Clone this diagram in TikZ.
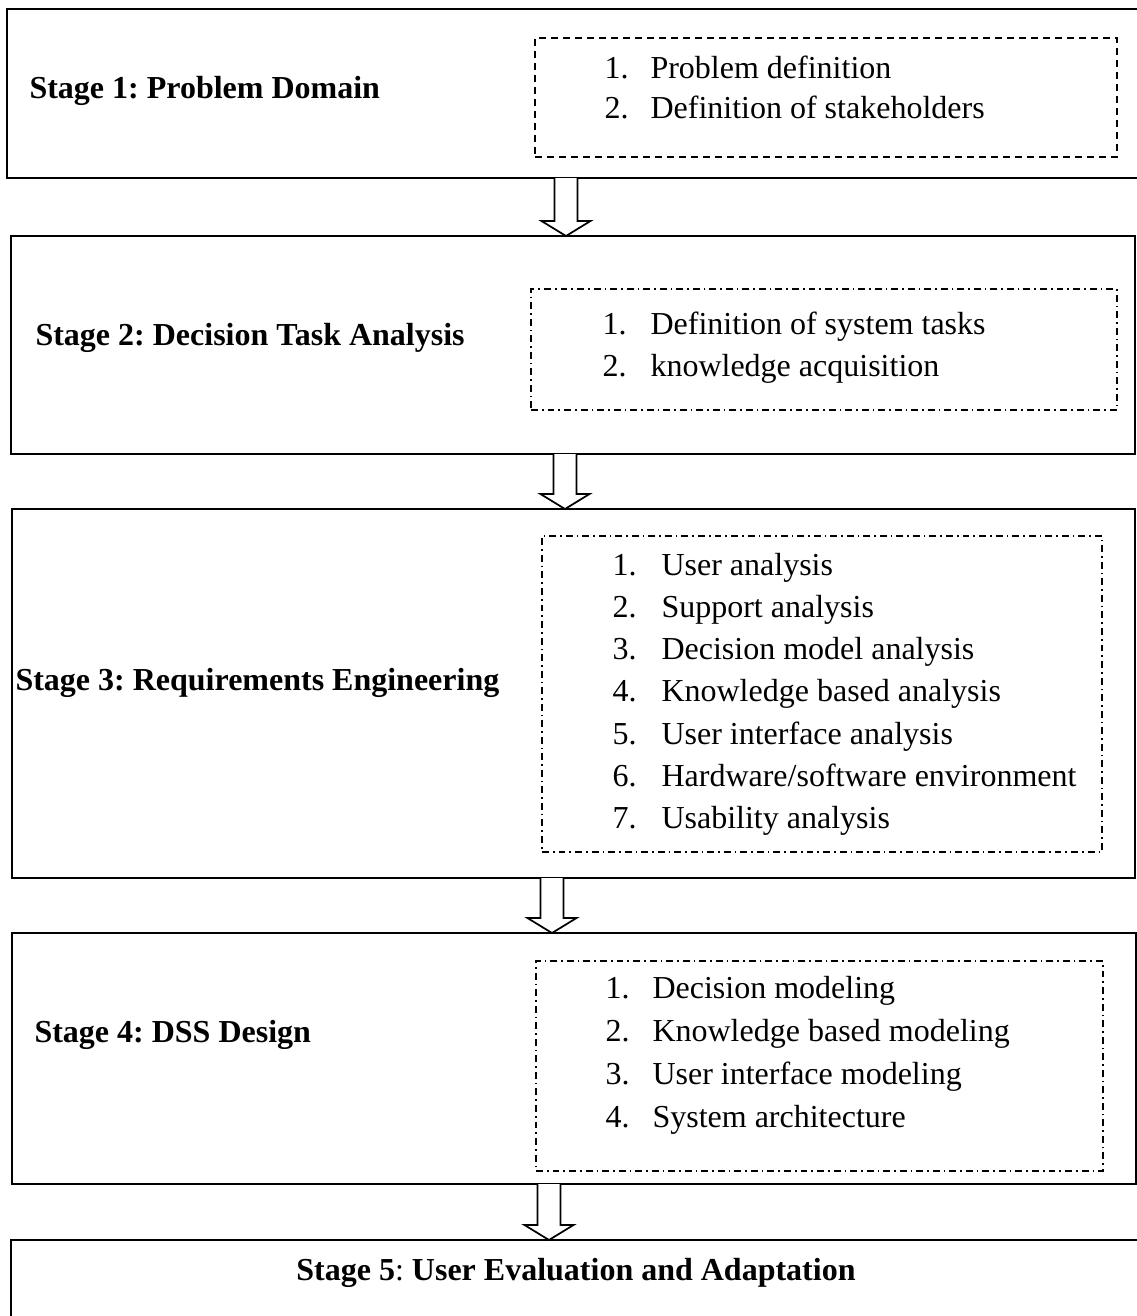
\documentclass[tikz,border=0pt]{standalone}
\usepackage{fontspec}
\setmainfont{Liberation Serif}
\usetikzlibrary{calc}
\frenchspacing

\tikzset{
  stagebox/.style={draw, line width=0.8pt, rectangle, inner sep=0pt, outer sep=0pt},
  dashbox/.style={draw, line width=0.6pt, dash pattern=on 2.6pt off 1.9pt,
                  rectangle, inner sep=0pt, outer sep=0pt},
  dashdotbox/.style={draw, line width=0.6pt,
                  dash pattern=on 2.6pt off 1.5pt on 0.6pt off 1.5pt,
                  rectangle, inner sep=0pt, outer sep=0pt},
  stagetitle/.style={font=\fontsize{12}{14}\selectfont\bfseries, inner sep=0pt, anchor=base west},
  itemtext/.style={font=\fontsize{12}{14}\selectfont, inner sep=0pt, anchor=base west},
  flowarrow/.style={draw, line width=0.65pt, fill=white, line join=miter},
}

% box given by its corners in px (left, top, right, bottom)
\newcommand\pxbox[6]{%
  \node[#1, anchor=north west,
        minimum width={(#5-#3)*0.375pt},
        minimum height={(#6-#4)*0.375pt}] (#2) at (#3,#4) {};}

% hollow block arrow from the bottom of #1 to the top of #2 at x = #3
\newcommand\flowarrow[3]{%
  \coordinate (#1#2x) at (#3,0);
  \draw[flowarrow]
    ($(#1.south -| #1#2x)+(-11.5,0)$) --
    ($(#2.north -| #1#2x)+(-11.5,-15)$) --
    ($(#2.north -| #1#2x)+(-24.5,-15)$) --
    (#2.north -| #1#2x) --
    ($(#2.north -| #1#2x)+(24.5,-15)$) --
    ($(#2.north -| #1#2x)+(11.5,-15)$) --
    ($(#1.south -| #1#2x)+(11.5,0)$);}

% numbered list: prefix, number x, text x, first baseline, line step, items
\newcommand\stagelist[6]{%
  \foreach \txt [count=\k] in {#6} {
    \node[itemtext] (#1n\k) at (#2,{#4+#5*(\k-1)}) {\k.};
    \node[itemtext] (#1t\k) at (#3,{#4+#5*(\k-1)}) {\txt};
  }}

\begin{document}
\begin{tikzpicture}[x=0.375pt, y=-0.375pt]
  \useasboundingbox (0,0) rectangle (1137,1316);
  \fill[white] (0,0) rectangle (1137,1316);
  \clip (0,0) rectangle (1137,1316);

  % stage frames
  \pxbox{stagebox}{s1}{7}{9}{1150}{178}
  \pxbox{stagebox}{s2}{11}{236}{1135}{454}
  \pxbox{stagebox}{s3}{12}{509}{1135}{878}
  \pxbox{stagebox}{s4}{12}{933}{1136}{1184}
  \pxbox{stagebox}{s5}{11}{1240}{1150}{1330}

  % activity frames
  \pxbox{dashbox}{d1}{535}{38}{1117}{157}
  \pxbox{dashdotbox}{d2}{531}{289}{1117}{410}
  \pxbox{dashdotbox}{d3}{542}{536}{1102}{852}
  \pxbox{dashdotbox}{d4}{536}{961}{1103}{1171}

  % flow between stages
  \flowarrow{s1}{s2}{566}
  \flowarrow{s2}{s3}{565}
  \flowarrow{s3}{s4}{552}
  \flowarrow{s4}{s5}{549}

  % stage titles
  \node[stagetitle] (t1) at (29,98) {Stage 1: Problem Domain};
  \node[stagetitle] (t2) at (35,345) {Stage 2: Decision Task Analysis};
  \node[stagetitle] (t3) at (15,690) {Stage 3: Requirements Engineering};
  \node[stagetitle] (t4) at (34,1042) {Stage 4: DSS Design};
  \node[stagetitle, anchor=base] (t5) at (576,1280)
    {Stage 5\textmd{:} User Evaluation and Adaptation};

  % activities
  \stagelist{p}{604}{650}{78}{40}{Problem definition, Definition of stakeholders}
  \stagelist{q}{602}{650}{334}{42}{Definition of system tasks, knowledge acquisition}
  \stagelist{r}{612}{661}{575}{42.3}{User analysis, Support analysis,
    Decision model analysis, Knowledge based analysis, User interface analysis,
    Hardware/software environment, Usability analysis}
  \stagelist{u}{605}{652}{998}{43}{Decision modeling, Knowledge based modeling,
    User interface modeling, System architecture}
\end{tikzpicture}
\end{document}
